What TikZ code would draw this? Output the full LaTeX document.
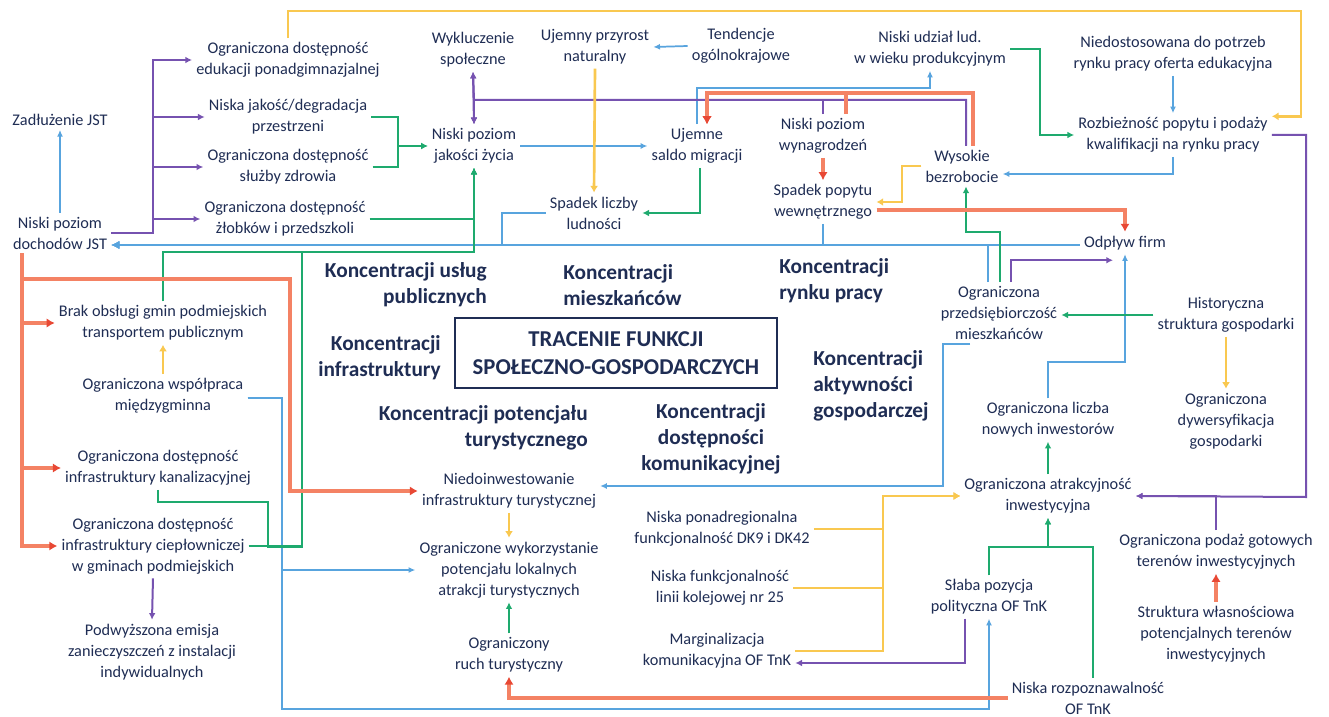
\documentclass[tikz,border=0pt]{standalone}
\usepackage{fontspec}
\setmainfont{Carlito}
\usetikzlibrary{arrows.meta}
\definecolor{navy}{RGB}{31,45,84}
\definecolor{cblue}{RGB}{88,164,222}
\definecolor{cpur}{RGB}{118,82,176}
\definecolor{cgrn}{RGB}{30,170,110}
\definecolor{cred}{RGB}{244,130,100}
\definecolor{credtip}{RGB}{232,72,52}
\definecolor{cylw}{RGB}{249,200,80}
\begin{document}
\begin{tikzpicture}[x=0.75pt,y=-0.75pt,
  txt/.style={align=center,font=\fontsize{12.2}{15.75}\selectfont,text=navy,inner sep=3pt},
  bld/.style={font=\fontsize{16}{19.5}\selectfont\bfseries,text=navy,inner sep=0pt},
  lblue/.style={draw=cblue,line width=1.3pt,-{Latex[length=5pt,width=4.5pt]}},
  lbus/.style={draw=cblue,line width=1.9pt,-{Latex[length=6pt,width=6pt]}},
  lpur/.style={draw=cpur,line width=1.5pt,-{Latex[length=5pt,width=5pt]}},
  lpurd/.style={draw=cpur,line width=1.5pt,{Latex[length=5pt,width=5pt]}-{Latex[length=5pt,width=5pt]}},
  lgrn/.style={draw=cgrn,line width=1.4pt,-{Latex[length=5pt,width=5pt]}},
  lred/.style={draw=cred,line width=3pt,-{Latex[length=6pt,width=7pt,color=credtip]}},
  lylw/.style={draw=cylw,line width=2pt,-{Latex[length=5pt,width=6pt]}},
  ]
\useasboundingbox (0,0) rectangle (1329,717);
\fill[white] (0,0) rectangle (1329,717);

% ---------- text nodes ----------
\node[txt] (zad) at (60,120) {Zadłużenie JST};
\node[txt] (doch) at (60,233) {Niski poziom\\dochodów JST};
\node[txt] (edu) at (288,60) {Ograniczona dostępność\\edukacji ponadgimnazjalnej};
\node[txt] (deg) at (288,117) {Niska jakość/degradacja\\przestrzeni};
\node[txt] (zdr) at (288,167) {Ograniczona dostępność\\służby zdrowia};
\node[txt] (zlob) at (285,219) {Ograniczona dostępność\\żłobków i przedszkoli};
\node[txt] (wyk) at (473,50) {Wykluczenie\\społeczne};
\node[txt] (jak) at (474,146) {Niski poziom\\jakości życia};
\node[txt] (przyr) at (595,47) {Ujemny przyrost\\naturalny};
\node[txt] (tend) at (741,46) {Tendencje\\ogólnokrajowe};
\node[txt] (saldo) at (697,146) {Ujemne\\saldo migracji};
\node[txt] (spl) at (594,213) {Spadek liczby\\ludności};
\node[txt] (udz) at (930,49) {Niski udział lud.\\w wieku produkcyjnym};
\node[txt] (niedo) at (1173,54) {Niedostosowana do potrzeb\\rynku pracy oferta edukacyjna};
\node[txt] (rozb) at (1173,135) {Rozbieżność popytu i podaży\\kwalifikacji na rynku pracy};
\node[txt] (wyn) at (823,136) {Niski poziom\\wynagrodzeń};
\node[txt] (pop) at (823,202) {Spadek popytu\\wewnętrznego};
\node[txt] (bez) at (962,166) {Wysokie\\bezrobocie};
\node[txt] (odp) at (1125,243) {Odpływ firm};
\node[txt] (przed) at (999,313) {Ograniczona\\przedsiębiorczość\\mieszkańców};
\node[txt] (hist) at (1226,315) {Historyczna\\struktura gospodarki};
\node[txt] (dyw) at (1226,421) {Ograniczona\\dywersyfikacja\\gospodarki};
\node[txt] (inw) at (1048,420) {Ograniczona liczba\\nowych inwestorów};
\node[txt] (atr) at (1048,496) {Ograniczona atrakcyjność\\inwestycyjna};
\node[txt] (podaz) at (1216,552) {Ograniczona podaż gotowych\\terenów inwestycyjnych};
\node[txt] (strw) at (1216,634) {Struktura własnościowa\\potencjalnych terenów\\inwestycyjnych};
\node[txt] (slaba) at (989,597) {Słaba pozycja\\polityczna OF TnK};
\node[txt] (rozp) at (1088,698) {Niska rozpoznawalność\\OF TnK};
\node[txt] (dk) at (722,529) {Niska ponadregionalna\\funkcjonalność DK9 i DK42};
\node[txt] (kol) at (720,588) {Niska funkcjonalność\\linii kolejowej nr 25};
\node[txt] (marg) at (717,651) {Marginalizacja\\komunikacyjna OF TnK};
\node[txt] (niedt) at (509,491) {Niedoinwestowanie\\infrastruktury turystycznej};
\node[txt] (wykt) at (509,570) {Ograniczone wykorzystanie\\potencjału lokalnych\\atrakcji turystycznych};
\node[txt] (ruch) at (509,655) {Ograniczony\\ruch turystyczny};
\node[txt] (brak) at (163,323) {Brak obsługi gmin podmiejskich\\transportem publicznym};
\node[txt] (wsp) at (163,396) {Ograniczona współpraca\\międzygminna};
\node[txt] (kan) at (158,468) {Ograniczona dostępność\\infrastruktury kanalizacyjnej};
\node[txt] (cie) at (153,546) {Ograniczona dostępność\\infrastruktury ciepłowniczej\\w gminach podmiejskich};
\node[txt] (emi) at (152,652) {Podwyższona emisja\\zanieczyszczeń z instalacji\\indywidualnych};

% ---------- bold labels ----------
\node[bld,align=right,anchor=east] (kup) at (487,285) {Koncentracji usług\\publicznych};
\node[bld,align=left,anchor=west] (kmi) at (563,285) {Koncentracji\\mieszkańców};
\node[bld,align=left,anchor=west] (krp) at (779,281) {Koncentracji\\rynku pracy};
\node[bld,align=right,anchor=east] (kinf) at (441,358) {Koncentracji\\infrastruktury};
\node[bld,align=left,anchor=west] (kakt) at (813,386) {Koncentracji\\aktywności\\gospodarczej};
\node[bld,align=right,anchor=east] (ktur) at (588,428) {Koncentracji potencjału\\turystycznego};
\node[bld,align=center] (kdost) at (711,439) {Koncentracji\\dostępności\\komunikacyjnej};
\node[draw=navy,line width=2.2pt,align=center,text=navy,
      font=\fontsize{17}{21}\selectfont\bfseries,
      minimum width=241.5pt,minimum height=52.5pt] (main) at (616,353)
      {TRACENIE FUNKCJI\\SPOŁECZNO-GOSPODARCZYCH};

% ---------- blue ----------
\draw[lblue] (doch.north) -- (zad.south);
\draw[lblue] (jak.east) -- (saldo.west);
\draw[lblue] (tend.west) -- (przyr.east);
\draw[lblue] (saldo.north) |- (900,88) -| (udz.south);
\draw[lblue] (niedo.south) -- (rozb.north);
\draw[lblue] (rozb.south) |- ([yshift=-6pt]bez.east);
\draw[lblue] (inw.north) |- (1125,362) -- (odp.south);
\draw[lblue] ([xshift=-21.75pt]przed.south) -| (943,486) -- ([yshift=3.75pt]niedt.east);
\draw[lblue] ([yshift=-1.5pt]wsp.east) -| (282,570) -- (wykt.west);
\draw[lblue] ([yshift=-1.5pt]wsp.east) -| (282,709) -| (slaba.south);
% blue bus to Niski poziom dochodow JST
\draw[lbus] ([yshift=-1.5pt]odp.west) -- ([yshift=-9pt]doch.east);
\draw[lbus] ([xshift=-8.25pt]przed.north) |- ([yshift=-9pt]doch.east);
\draw[lbus] (pop.south) |- ([yshift=-9pt]doch.east);
\draw[lbus] (spl.west) -| (502,245) -- ([yshift=-9pt]doch.east);

% ---------- purple ----------
\draw[lpur] (doch.east) -| (153,60) -- (edu.west);
\draw[lpur] (doch.east) -| (153,117) -- (deg.west);
\draw[lpur] (doch.east) -| (153,167) -- (zdr.west);
\draw[lpur] (doch.east) -| (153,219) -- (zlob.west);
\draw[lpurd] (wyk.south) -- (jak.north);
\draw[lpur] ([xshift=3pt]bez.north) |- (474,100) -- (wyk.south);
\draw[lpur] ([xshift=3pt]bez.north) |- (474,100) -- (jak.north);
\draw[lpur] (wyn.north) |- (474,100) -- (jak.north);
\draw[lpur] (rozb.east) -| (1306,497) -- (atr.east);
\draw[lpur] (podaz.north) |- (atr.east);
\draw[lpur] ([xshift=9pt]przed.north) |- ([xshift=-9pt,yshift=-4.5pt]odp.south);
\draw[lpur] ([xshift=-18pt]slaba.south) |- ([yshift=-9pt]marg.east);
\draw[lpur] (cie.south) -- (emi.north);

% ---------- green ----------
\draw[lgrn] (deg.east) -| (398,146) -- (jak.west);
\draw[lgrn] (zdr.east) -| (398,146) -- (jak.west);
\draw[lgrn] (zlob.east) -| (jak.south);
\draw[lgrn] (brak.north) |- (474,252) -- (jak.south);
\draw[lgrn] (kan.south) |- (268,502) -- (268,547) -| (302,252) -| (jak.south);
\draw[lgrn] (cie.east) -| (302,252) -| (jak.south);
\draw[lgrn] ([xshift=2pt]saldo.south) |- (spl.east);
\draw[lgrn] (udz.east) -| (1040,135) -- (rozb.west);
\draw[lgrn] (slaba.north) |- (1048,547) -- (atr.south);
\draw[lgrn] ([xshift=3.75pt]rozp.north) |- (1048,547) -- (atr.south);
\draw[lgrn] (atr.north) -- (inw.south);
\draw[lgrn] (hist.west) -- (hist.west -| przed.east);
\draw[lgrn] ([xshift=0.75pt]przed.north) |- (966,232) -- ([xshift=3pt]bez.south);
\draw[lgrn] (ruch.north) -- (wykt.south);

% ---------- red ----------
\draw[lred] ([xshift=8.25pt]bez.north) |- (707,93) -- ([xshift=7.5pt]saldo.north);
\draw[lred] ([xshift=17.25pt]wyn.north) |- (707,93) -- ([xshift=7.5pt]saldo.north);
\draw[lred] (wyn.south) -- (pop.north);
\draw[lred] ([yshift=-6pt]pop.east) -| (odp.north);
\draw[lred] ([xshift=-28.5pt]doch.south) |- (brak.west);
\draw[lred] ([xshift=-28.5pt]doch.south) |- (kan.west);
\draw[lred] ([xshift=-28.5pt]doch.south) |- (cie.west);
\draw[lred] ([xshift=-28.5pt]doch.south) |- (290,279) |- (niedt.west);
\draw[lred] (strw.north) -- (podaz.south);
\draw[lred] (rozp.west) -| (ruch.south);

% ---------- yellow ----------
\draw[lylw] (przyr.south) -- (spl.north);
\draw[lylw] (bez.west) -| (902,202) -- (pop.east);
\draw[lylw] (edu.north) |- (1301,11) |- ([yshift=14pt]rozb.east);
\draw[lylw] (hist.south) -- (dyw.north);
\draw[lylw] (wsp.north) -- (brak.south);
\draw[lylw] (niedt.south) -- (wykt.north);
\draw[lylw] (dk.east) -| (883,496) -- (atr.west);
\draw[lylw] (kol.east) -| (883,496) -- (atr.west);
\draw[lylw] (marg.east) -| (883,496) -- (atr.west);
\end{tikzpicture}
\end{document}
